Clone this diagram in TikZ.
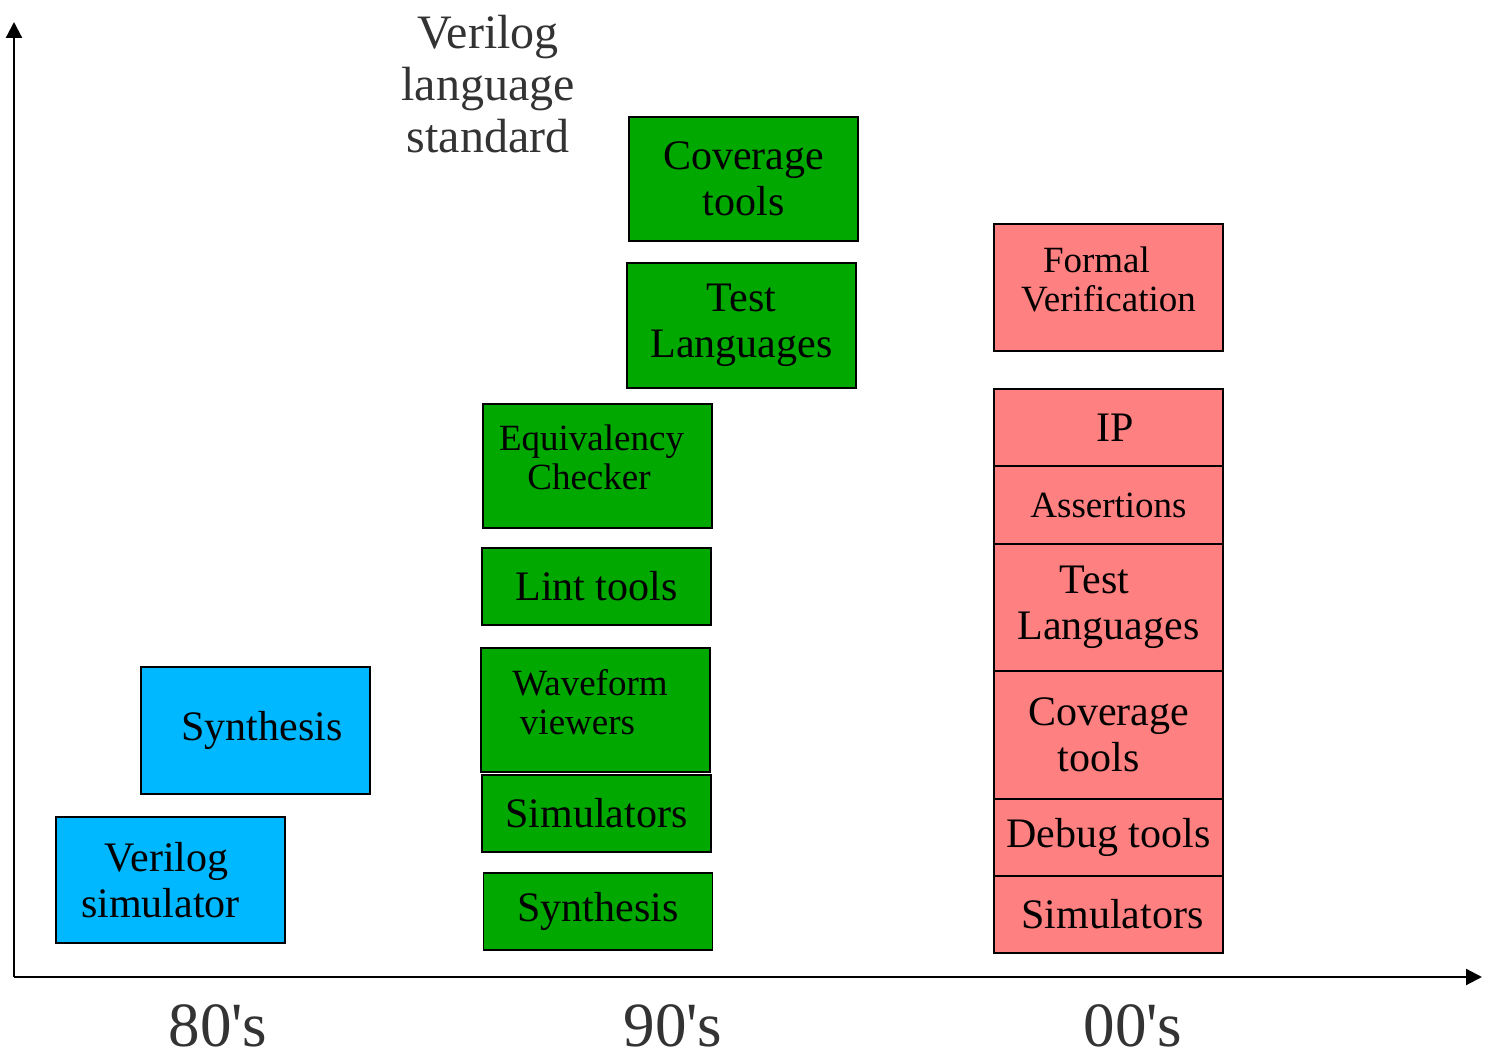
\documentclass[tikz,border=0pt]{standalone}
\usepackage{fontspec}
\setmainfont{Liberation Serif}
\usetikzlibrary{arrows.meta}

\definecolor{oldblue}{HTML}{00B8FF}
\definecolor{midgreen}{HTML}{00A800}
\definecolor{newred}{HTML}{FF8080}
\definecolor{labelgray}{HTML}{333333}

\begin{document}
\begin{tikzpicture}[x=0.5pt, y=-0.5pt,
    every node/.style={font=\fontsize{21}{23}\selectfont, align=center},
    box/.style={draw, line width=0.9pt, inner sep=0pt, minimum width=114.5pt},
    smalltext/.style={font=\fontsize{18.5}{19.5}\selectfont},
    era/.style={text=labelgray, font=\fontsize{31.5}{33}\selectfont, anchor=base},
    axis/.style={line width=1.1pt, -{Triangle[length=8pt, width=8pt]}}]
  \useasboundingbox (0,0) rectangle (1485,1052);

  % Axes
  \coordinate (origin) at (14,977);
  \coordinate (ytop) at (14,22);
  \coordinate (xend) at (1482,977);
  \draw[axis] (origin) -- (ytop);
  \draw[axis] (origin) -- (xend);

  % Era labels
  \node[era] (eighties) at (218,1047) {80\textquotesingle s};
  \node[era] (nineties) at (673,1047) {90\textquotesingle s};
  \node[era] (noughties) at (1133,1047) {00\textquotesingle s};

  % Standard
  \node[text=labelgray, font=\fontsize{24}{26}\selectfont] (standard) at (488,84) {Verilog\\language\\standard};

  % 80's boxes
  \node[box, fill=oldblue, minimum height=63pt] (vsim) at (170.5,880) {Verilog\hspace*{4pt}\\simulator\hspace*{10pt}};
  \node[box, fill=oldblue, minimum height=63.5pt] (synth80) at (255.5,730.5) {\hspace*{6.5pt}Synthesis};

  % 90's boxes
  \node[box, fill=midgreen, minimum height=62pt] (cov90) at (743.5,179) {Coverage\\tools};
  \node[box, fill=midgreen, minimum height=62.5pt] (test90) at (741.5,325.5) {Test\\Languages};
  \node[box, smalltext, fill=midgreen, minimum height=62pt, text depth=9pt] (equiv) at (597.5,466) {Equivalency\hspace*{6pt}\\Checker\hspace*{8.5pt}};
  \node[box, fill=midgreen, minimum height=38.5pt] (lint) at (596.5,586.5) {Lint tools};
  \node[box, smalltext, fill=midgreen, minimum height=62pt, text depth=8pt] (wave) at (595.5,710) {Waveform\hspace*{5.5pt}\\viewers\hspace*{18pt}};
  \node[box, fill=midgreen, minimum height=38.5pt] (sim90) at (596.5,813.5) {Simulators};
  \node[box, fill=midgreen, minimum height=38.5pt] (synth90) at (598,911.5) {Synthesis};

  % 00's boxes
  \node[box, smalltext, fill=newred, minimum height=63.5pt, text depth=8.5pt] (formal) at (1108.5,287.5) {Formal\hspace*{12pt}\\Verification};
  \node[box, fill=newred, minimum height=38.5pt] (ip) at (1108.5,427.5) {\hspace*{6.5pt}IP};
  \node[box, smalltext, fill=newred, minimum height=39pt] (assert) at (1108.5,505) {Assertions};
  \node[box, fill=newred, minimum height=63.5pt] (test00) at (1108.5,607.5) {Test\hspace*{14pt}\\Languages};
  \node[box, fill=newred, minimum height=64pt] (cov00) at (1108.5,735) {Coverage\\tools\hspace*{10pt}};
  \node[box, fill=newred, minimum height=38.5pt] (debug) at (1108.5,837.5) {Debug tools};
  \node[box, fill=newred, minimum height=38.5pt] (sim00) at (1108.5,914.5) {\hspace*{4pt}Simulators};
\end{tikzpicture}
\end{document}
